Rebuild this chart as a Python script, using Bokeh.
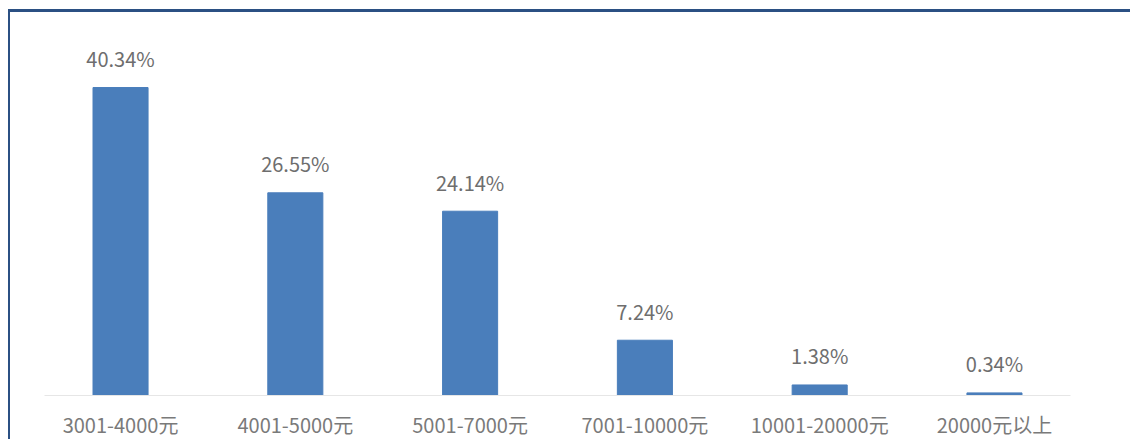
from bokeh.plotting import figure
from bokeh.models import ColumnDataSource, LabelSet, Range1d
from bokeh.core.properties import value
from bokeh.embed import file_html
from bokeh.resources import INLINE

categories = ["3001-4000元", "4001-5000元", "5001-7000元", "7001-10000元", "10001-20000元", "20000元以上"]
values = [40.34, 26.55, 24.14, 7.24, 1.38, 0.34]
value_labels = ["40.34%", "26.55%", "24.14%", "7.24%", "1.38%", "0.34%"]

FONT = "Noto Sans CJK SC"
VALUE_COLOR = "#6e6e6e"
CAT_COLOR = "#7a7a7a"
BAR_COLOR = "#4a7ebb"

src = ColumnDataSource(dict(cat=categories, val=values, lab=value_labels))

p = figure(x_range=categories, y_range=Range1d(0, 46.5), width=1122, height=430,
           output_backend="svg", toolbar_location=None,
           min_border_left=34, min_border_right=62, min_border_top=28, min_border_bottom=47)
p.styles = {"border-top": "3px solid #2b5083", "border-left": "2px solid #2b5083",
            "margin-top": "9px", "margin-left": "8px"}
p.x_range.range_padding = -0.065
p.x_range.range_padding_units = "absolute"

p.vbar(x="cat", top="val", width=0.315, source=src, color=BAR_COLOR)

labels = LabelSet(x="cat", y="val", text="lab", source=src, text_align="center",
                  text_baseline="middle", y_offset=29, text_font=value(FONT),
                  text_font_size="20px", text_color=VALUE_COLOR)
p.add_layout(labels)

p.yaxis.visible = False
p.xgrid.visible = False
p.ygrid.visible = False
p.outline_line_color = None
p.xaxis.axis_line_color = "#e6e6e6"
p.xaxis.axis_line_width = 1
p.xaxis.major_tick_line_color = None
p.xaxis.minor_tick_line_color = None
p.xaxis.major_label_standoff = 8
p.xaxis.major_label_text_font = FONT
p.xaxis.major_label_text_font_size = "20px"
p.xaxis.major_label_text_color = CAT_COLOR

open("out.html", "w").write(file_html(p, INLINE))
